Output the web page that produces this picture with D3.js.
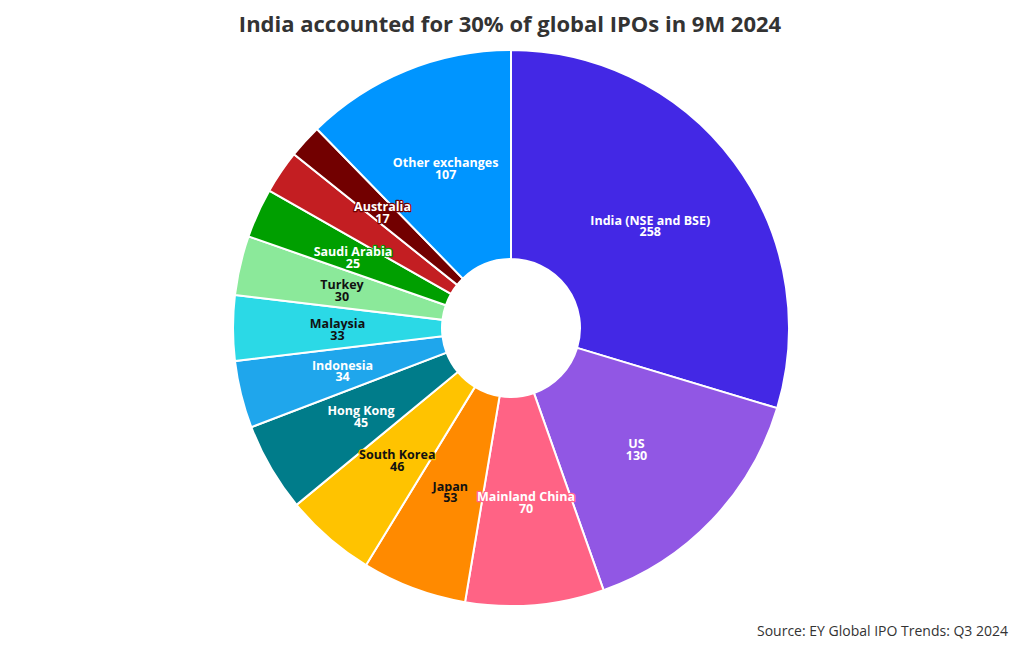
<!DOCTYPE html>
<html>
<head>
<meta charset="utf-8">
<script src="https://cdn.jsdelivr.net/npm/d3@7"></script>
<style>
  body { margin: 0; background: #fff; font-family: "Open Sans", "Noto Sans", sans-serif; }
  #vis1 { width: 1020px; height: 650px; }
</style>
</head>
<body>
<div id="vis1"></div>
<script>
/*
Data
*/

const exchanges = ["India (NSE and BSE)", "US", "Mainland China", "Japan", "South Korea", "Hong Kong",
                   "Indonesia", "Malaysia", "Turkey", "Saudi Arabia", "", "Australia", "Other exchanges"];
const ipoCounts = [258, 130, 70, 53, 46, 45, 34, 33, 30, 25, 22, 17, 107];
const sliceColors = ["#4328E5", "#9157E4", "#FF6385", "#FF8A00", "#FFC300", "#007C8A",
                     "#1FA6EC", "#2BD9E6", "#8BE99A", "#009F00", "#C31E22", "#720000", "#0095FF"];
const darkText = ["Japan", "South Korea", "Malaysia", "Turkey"];

const WIDTH = 1020;
const HEIGHT = 650;

const cx = 511, cy = 328;
const outerR = 278, innerR = 69;

const data = exchanges.map((name, i) => ({name, value: ipoCounts[i], color: sliceColors[i]}));

const svg = d3.select("#vis1")
                .append("svg")
                .attr("width", WIDTH)
                .attr("height", HEIGHT);

// title
svg.append("text")
    .attr("x", 510)
    .attr("y", 32)
    .attr("text-anchor", "middle")
    .attr("font-size", "22px")
    .attr("font-weight", "bold")
    .attr("fill", "#333")
    .text("India accounted for 30% of global IPOs in 9M 2024");

const pie = d3.pie()
                .sort(null)
                .value(d => d.value);

const arc = d3.arc()
                .innerRadius(innerR)
                .outerRadius(outerR);

const labelArc = d3.arc()
                .innerRadius((innerR + outerR) / 2)
                .outerRadius((innerR + outerR) / 2);

const donut = svg.append("g")
                .attr("transform", `translate(${cx}, ${cy})`);

const arcs = pie(data);

donut.selectAll("path.slice")
    .data(arcs)
    .enter()
    .append("path")
    .attr("class", "slice")
    .attr("d", arc)
    .attr("fill", d => d.data.color)
    .attr("stroke", "#fff")
    .attr("stroke-width", 2);

// labels: name + value, halo in slice colour
const labels = donut.selectAll("text.label")
    .data(arcs.filter(d => d.data.name !== ""))
    .enter()
    .append("text")
    .attr("class", "label")
    .attr("transform", d => `translate(${labelArc.centroid(d)})`)
    .attr("text-anchor", "middle")
    .attr("font-size", "12.5px")
    .attr("font-weight", "bold")
    .attr("fill", d => darkText.includes(d.data.name) ? "#111" : "#fff")
    .attr("stroke", d => d.data.color)
    .attr("stroke-width", 2.5)
    .attr("paint-order", "stroke")
    .attr("stroke-linejoin", "round");

labels.append("tspan")
    .attr("x", 0)
    .attr("dy", "0em")
    .text(d => d.data.name);

labels.append("tspan")
    .attr("x", 0)
    .attr("dy", "0.95em")
    .text(d => d.data.value);

// source
svg.append("text")
    .attr("x", 1008)
    .attr("y", 636)
    .attr("text-anchor", "end")
    .attr("font-size", "14px")
    .attr("fill", "#333")
    .text("Source: EY Global IPO Trends: Q3 2024");
</script>
</body>
</html>
